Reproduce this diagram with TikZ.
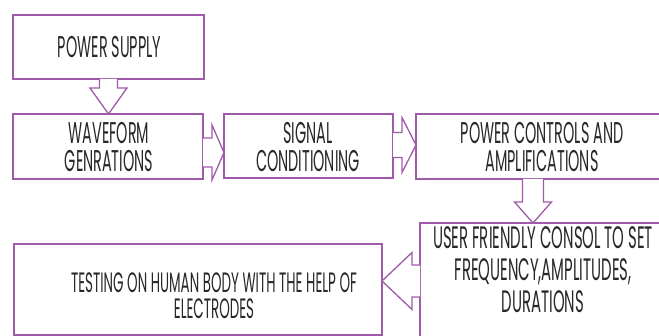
\documentclass[tikz,border=0pt]{standalone}
\usepackage{fontspec}
\setmainfont{Poppins}[FakeStretch=0.48]
\usetikzlibrary{calc}
\definecolor{boxline}{RGB}{160,90,170}
\definecolor{txt}{RGB}{40,40,40}
\tikzset{
  blk/.style={draw=boxline, line width=1.3pt, fill=white, inner sep=0pt, outer sep=0pt, anchor=north west},
  lbl/.style={text=txt, align=center, inner sep=0pt},
  arrline/.style={draw=boxline, line width=1.3pt, line join=miter},
  arrfill/.style={fill=white}
}
\begin{document}
\begin{tikzpicture}[x=1pt,y=-1pt]
\useasboundingbox (0,0) rectangle (659,336);
% boxes
\node[blk, minimum width=191pt, minimum height=64pt] (ps) at (13,15) {};
\node[blk, minimum width=190pt, minimum height=65pt] (wf) at (13,114) {};
\node[blk, minimum width=169pt, minimum height=64pt] (sc) at (224,114) {};
\node[blk, minimum width=252pt, minimum height=65pt] (pc) at (416,114) {};
\node[blk, minimum width=250pt, minimum height=130pt] (uf) at (420,223) {};
\node[blk, minimum width=368pt, minimum height=91pt] (tb) at (14,244) {};
% texts
\node[lbl, font=\fontsize{30}{28}\selectfont] (t1) at (109.5,47) {POWER SUPPLY};
\node[lbl, font=\fontsize{30}{28}\selectfont] (t2) at (109,147) {WAVEFORM\\GENRATIONS};
\node[lbl, font=\fontsize{30}{28}\selectfont] (t3) at (308,147) {SIGNAL\\CONDITIONING};
\node[lbl, font=\fontsize{30}{28}\selectfont] (t4) at (542,147) {POWER CONTROLS AND\\AMPLIFICATIONS};
\node[lbl, font=\fontsize{31}{32}\selectfont] (t5) at (543,270) {USER FRIENDLY CONSOL TO SET\\FREQUENCY,AMPLITUDES,\\DURATIONS};
\node[lbl, font=\fontsize{28}{26}\selectfont] (t6) at (214,296) {TESTING ON HUMAN BODY WITH THE HELP OF\\ELECTRODES};
% arrow: power supply -> waveform (down)
\fill[arrfill] ($(ps.south)+(-9,0)$) -- ($(ps.south)+(-9,9)$) -- ($(ps.south)+(-18.5,9)$) -- (ps.south |- wf.north) -- ($(ps.south)+(18.5,9)$) -- ($(ps.south)+(9,9)$) -- ($(ps.south)+(9,0)$) -- cycle;
\draw[arrline] ($(ps.south)+(-9,0)$) -- ($(ps.south)+(-9,9)$) -- ($(ps.south)+(-18.5,9)$) -- (ps.south |- wf.north) -- ($(ps.south)+(18.5,9)$) -- ($(ps.south)+(9,9)$) -- ($(ps.south)+(9,0)$);
% arrow: waveform -> signal (right)
\coordinate (a1) at ($(wf.east)+(0,6)$);
\fill[arrfill] ($(a1)+(0,-14.5)$) -- ($(a1)+(9,-14.5)$) -- ($(a1)+(9,-27.5)$) -- (a1 -| sc.west) -- ($(a1)+(9,27.5)$) -- ($(a1)+(9,14.5)$) -- ($(a1)+(0,14.5)$) -- cycle;
\draw[arrline] ($(a1)+(0,-14.5)$) -- ($(a1)+(9,-14.5)$) -- ($(a1)+(9,-27.5)$) -- (a1 -| sc.west) -- ($(a1)+(9,27.5)$) -- ($(a1)+(9,14.5)$) -- ($(a1)+(0,14.5)$);
% arrow: signal -> power controls (right)
\coordinate (a2) at ($(sc.east)+(0,-1)$);
\fill[arrfill] ($(a2)+(0,-12.5)$) -- ($(a2)+(9,-12.5)$) -- ($(a2)+(9,-27.5)$) -- (a2 -| pc.west) -- ($(a2)+(9,27.5)$) -- ($(a2)+(9,12.5)$) -- ($(a2)+(0,12.5)$) -- cycle;
\draw[arrline] ($(a2)+(0,-12.5)$) -- ($(a2)+(9,-12.5)$) -- ($(a2)+(9,-27.5)$) -- (a2 -| pc.west) -- ($(a2)+(9,27.5)$) -- ($(a2)+(9,12.5)$) -- ($(a2)+(0,12.5)$);
% arrow: power controls -> user console (down)
\coordinate (a3) at (533,179);
\fill[arrfill] ($(a3)+(-10.5,0)$) -- ($(a3)+(-10.5,23)$) -- ($(a3)+(-18.5,23)$) -- (a3 |- uf.north) -- ($(a3)+(18.5,23)$) -- ($(a3)+(10.5,23)$) -- ($(a3)+(10.5,0)$) -- cycle;
\draw[arrline] ($(a3)+(-10.5,0)$) -- ($(a3)+(-10.5,23)$) -- ($(a3)+(-18.5,23)$) -- (a3 |- uf.north) -- ($(a3)+(18.5,23)$) -- ($(a3)+(10.5,23)$) -- ($(a3)+(10.5,0)$);
% arrow: user console -> testing (left)
\coordinate (a4) at (420,281);
\fill[arrfill] ($(a4)+(0,-16)$) -- ($(a4)+(-8,-16)$) -- ($(a4)+(-8,-28.5)$) -- (a4 -| tb.east) -- ($(a4)+(-8,28.5)$) -- ($(a4)+(-8,16)$) -- ($(a4)+(0,16)$) -- cycle;
\draw[arrline] ($(a4)+(0,-16)$) -- ($(a4)+(-8,-16)$) -- ($(a4)+(-8,-28.5)$) -- (a4 -| tb.east) -- ($(a4)+(-8,28.5)$) -- ($(a4)+(-8,16)$) -- ($(a4)+(0,16)$);
\end{tikzpicture}
\end{document}
